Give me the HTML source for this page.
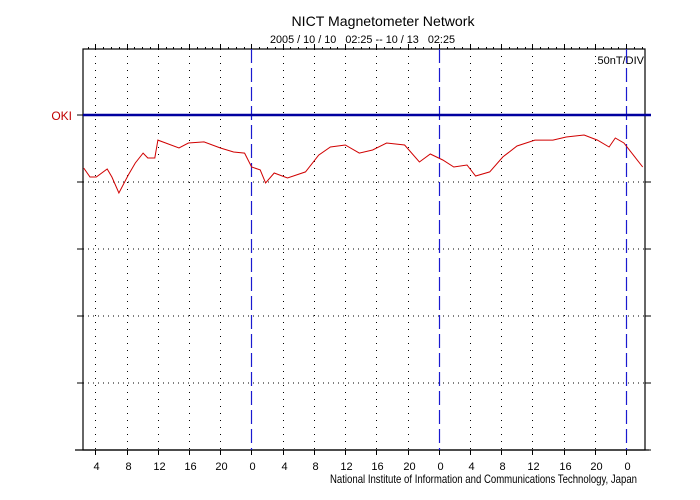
<!DOCTYPE html>
<html><head><meta charset="utf-8"><style>
body{margin:0;background:#fff}
svg{display:block;font-family:"Liberation Sans",sans-serif}
.dayline{stroke:#1a1ad0;stroke-width:1.2;stroke-dasharray:14,5}
</style></head><body>
<svg id="chart" width="700" height="500" viewBox="0 0 700 500">
<text x="383" y="26" font-size="14" text-anchor="middle" textLength="183" lengthAdjust="spacingAndGlyphs">NICT Magnetometer Network</text>
<text x="270" y="43" font-size="11" textLength="185" lengthAdjust="spacingAndGlyphs" xml:space="preserve">2005 / 10 / 10   02:25 -- 10 / 13   02:25</text>
<text x="644" y="64" font-size="11" text-anchor="end">50nT/DIV</text>
<text x="72" y="120" font-size="12" fill="#c00000" text-anchor="end">OKI</text>
<text x="330" y="483" font-size="12" textLength="307" lengthAdjust="spacingAndGlyphs">National Institute of Information and Communications Technology, Japan</text>
<g id="grid"></g>
<g id="axes"></g>
<g id="days"></g>
<g id="series"></g>
</svg>
<script>
const hours=[0.1,0.9,1.7,3.1,3.7,4.6,5.8,6.7,7.7,8.3,9.2,9.6,12.3,13.5,15.5,17.6,19.3,20.7,21.6,22.7,23.4,24.5,26.2,28.5,30.2,31.7,33.6,35.4,37.1,38.9,41.2,43.1,44.5,46.1,47.5,49.2,50.3,52.1,53.8,55.6,57.9,60.2,61.9,64.2,65.9,67.4,68.2,69.3,71.7];
const okiValues=[-39.6,-46.3,-46.3,-40.3,-46.3,-58.2,-44.8,-35.8,-28.4,-32.1,-32.1,-18.7,-24.6,-20.9,-20.1,-24.6,-27.6,-28.4,-38.8,-41,-50.7,-43.3,-47,-42.5,-29.9,-23.9,-22.4,-28.4,-26.1,-20.9,-22.4,-35.1,-29.1,-33.6,-38.8,-37.3,-45.5,-42.5,-31.3,-23.1,-18.7,-18.7,-16.4,-14.9,-18.7,-23.9,-17.2,-20.9,-38.8];
const startHour=2+25/60;
const totalHours=72;
const baselineValue=0;
const nTPerDiv=50;
const X0=83,X1=645,Y0=49,Y1=450,BASE_Y=115,DIV=67;
const NS="http://www.w3.org/2000/svg";
function xs(h){return X0+(h/totalHours)*(X1-X0);}
function ys(v){return BASE_Y-(v-baselineValue)/nTPerDiv*DIV;}
function mk(tag,attrs,parent){const e=document.createElementNS(NS,tag);for(const k in attrs)e.setAttribute(k,attrs[k]);parent.appendChild(e);return e;}
const grid=document.getElementById('grid'),axes=document.getElementById('axes'),days=document.getElementById('days'),series=document.getElementById('series');
for(let i=1;i<=5;i++){const y=BASE_Y+i*DIV;
 const l=mk('line',{x1:X0,x2:X1,y1:y,y2:y,stroke:'#000','stroke-dasharray':'1,4'},grid);
 
 
 for(const [a,b] of [[X0-6,X0],[X1,X1+6]]){const t=mk('line',{x1:a,x2:b,y1:y,y2:y,stroke:'#000'},axes);
 
 }
}
for(const [a,b] of [[X0-6,X0],[X1,X1+6]]){const t=mk('line',{x1:a,x2:b,y1:BASE_Y,y2:BASE_Y,stroke:'#000'},axes);
 
 }
for(let h=Math.ceil(startHour);h<startHour+totalHours;h++){
 const x=Math.round(xs(h-startHour))+0.5;const hod=h%24;
 if(hod%4===0){
  if(hod===0){
   const d=mk('line',{x1:x,x2:x,y1:Y0,y2:Y1,'class':'dayline'},days);
   
   
  } else {
   const l=mk('line',{x1:x,x2:x,y1:Y0,y2:Y1,stroke:'#000','stroke-dasharray':'1,6'},grid);
   
   
  }
  const tt=mk('line',{x1:x,x2:x,y1:Y0-5,y2:Y0,stroke:'#000'},axes);
  
  
  const bt=mk('line',{x1:x,x2:x,y1:Y1,y2:Y1+5,stroke:'#000'},axes);
  
  
  const lb=mk('text',{x:x+1,y:Y1+20,'font-size':11,'text-anchor':'middle'},axes);
  lb.textContent=String(hod);
  
  
 } else {
  const tt=mk('line',{x1:x,x2:x,y1:Y0-2,y2:Y0,stroke:'#000'},axes);
  
  
 }
}
const fr=mk('rect',{x:X0,y:Y0,width:X1-X0,height:Y1-Y0,fill:'none',stroke:'#000','stroke-width':1.2},axes);


const bx=mk('line',{x1:X0-8,x2:X1+4,y1:Y1,y2:Y1,stroke:'#000','stroke-width':1.2},axes);


const bl=mk('line',{x1:X0,x2:X1+6,y1:ys(baselineValue),y2:ys(baselineValue),stroke:'#0000a0','stroke-width':2.5},series);


const pts=hours.map((h,i)=>xs(h).toFixed(1)+','+ys(okiValues[i]).toFixed(1)).join(' ');
const pl=mk('polyline',{points:pts,fill:'none',stroke:'#d00000','stroke-width':1},series);


</script>
</body></html>
